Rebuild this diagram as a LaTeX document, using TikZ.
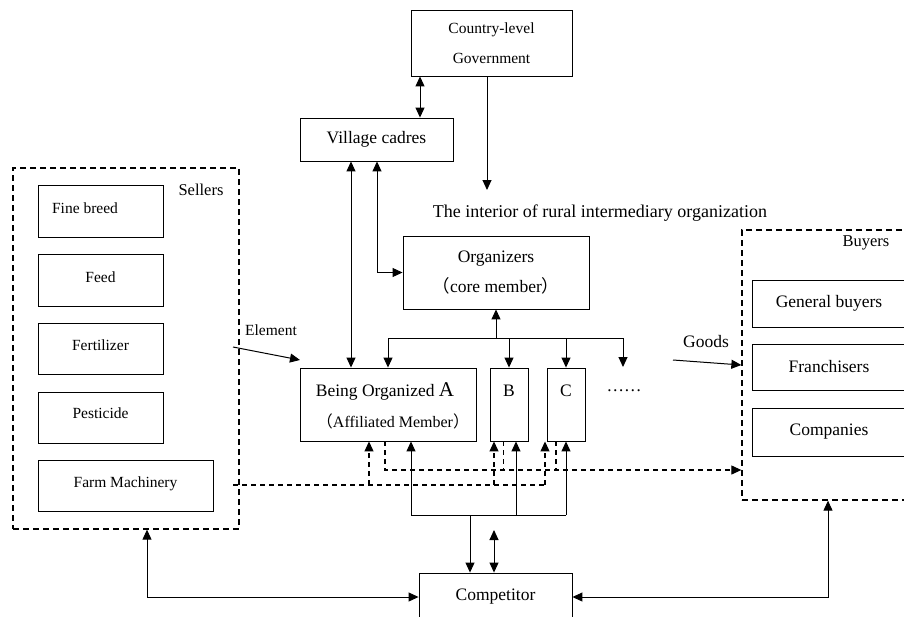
\documentclass[tikz,border=0pt]{standalone}
\usepackage{fontspec}
\setmainfont{Liberation Serif}
\newfontfamily\cjk{Noto Sans CJK SC}
\usetikzlibrary{arrows.meta}
\begin{document}
\begin{tikzpicture}[x=1pt,y=-1pt,
  box/.style={draw, line width=0.9pt, inner sep=0pt, align=center},
  dbox/.style={draw, line width=1.3pt, dash pattern=on 6pt off 4pt},
  tip/.style={-{Triangle[length=10pt,width=9pt]}},
  arr/.style={line width=1pt, tip},
  darr/.style={line width=1pt, {Triangle[length=10pt,width=9pt]}-{Triangle[length=10pt,width=9pt]}},
  dl/.style={line width=1.1pt, dash pattern=on 5pt off 4pt},
  sm/.style={font=\fontsize{15.5}{18}\selectfont},
  md/.style={font=\fontsize{17.5}{20}\selectfont},
  lbl/.style={font=\fontsize{16.5}{19}\selectfont, inner sep=0pt}]
\useasboundingbox (0,0) rectangle (904,616);
\fill[white] (0,0) rectangle (904,616);

% Government and village
\node[box, sm, minimum width=161pt, minimum height=66pt,
  font=\fontsize{15.5}{30}\selectfont] (gov) at (491.5,43) {Country-level\\Government};
\node[box, md, minimum width=153pt, minimum height=43pt] (village) at (376.5,139.5) {Village cadres};
\node[lbl, font=\fontsize{18}{20}\selectfont] (title) at (600,213) {The interior of rural intermediary organization};

% Organizers
\node[box, md, minimum width=186pt, minimum height=73pt,
  font=\fontsize{17.5}{30}\selectfont] (org) at (496,272.5)
  {Organizers\\{\fontsize{17.5}{18}\selectfont{\cjk （}core member{\cjk ）}}};

% Organized members
\node[box, minimum width=176pt, minimum height=73pt] (A) at (388,404.5) {};
\node[md, inner sep=0pt] (Atext) at (385,391) {Being Organized {\fontsize{21}{22}\selectfont A}};
\node[inner sep=0pt, font=\fontsize{16}{18}\selectfont] (Asub) at (393,421) {{\cjk （}Affiliated Member{\cjk ）}};
\node[box, minimum width=38pt, minimum height=73pt] (B) at (509,404.5) {};
\node[md, inner sep=0pt] (Btext) at (509,391) {B};
\node[box, minimum width=38pt, minimum height=73pt] (C) at (566,404.5) {};
\node[md, inner sep=0pt] (Ctext) at (566,391) {C};
\node[md, inner sep=0pt] (dots) at (624,391) {……};

% Sellers
\node[dbox, minimum width=226pt, minimum height=361pt] (sellers) at (126,348.5) {};
\node[lbl] (sellerslbl) at (201,190) {Sellers};
\node[box, sm, minimum width=125pt, minimum height=52pt] (fine) at (100.5,211) {};
\node[sm, inner sep=0pt] (finetext) at (85,208) {Fine breed};
\node[box, sm, minimum width=125pt, minimum height=52pt, text depth=6pt] (feed) at (100.5,280) {Feed};
\node[box, sm, minimum width=125pt, minimum height=51pt, text depth=6pt] (fert) at (100.5,348.5) {Fertilizer};
\node[box, sm, minimum width=125pt, minimum height=51pt, text depth=8pt] (pest) at (100.5,417.5) {Pesticide};
\node[box, sm, minimum width=175pt, minimum height=51pt, text depth=6pt] (fm) at (125.5,485.5) {Farm Machinery};

% Buyers
\node[dbox, minimum width=180pt, minimum height=270pt] (buyers) at (832,365) {};
\node[lbl] (buyerslbl) at (866,243) {Buyers};
\node[box, md, minimum width=154pt, minimum height=47pt] (gen) at (829,303.5) {General buyers};
\node[box, md, minimum width=154pt, minimum height=46pt] (fran) at (829,367) {Franchisers};
\node[box, md, minimum width=154pt, minimum height=48pt] (comp2) at (829,432) {Companies};

% Competitor
\node[box, minimum width=153pt, minimum height=48pt] (comp) at (495.5,597) {};
\node[md, inner sep=0pt] (comptext) at (495.5,597) {Competitor};

% labels
\node[sm, inner sep=0pt, font=\fontsize{15.5}{18}\selectfont] (el) at (271,330) {Element};
\node[md, inner sep=0pt] (goods) at (706,342) {Goods};

% coordinates
\coordinate (x420) at (420,0);
\coordinate (x487) at (487,0);
\coordinate (govend) at (487,190);
\coordinate (x351) at (351,0);
\coordinate (x377) at (377,0);
\coordinate (busL) at (388,338);
\coordinate (busM) at (496,338);
\coordinate (busB) at (509,338);
\coordinate (busC) at (566,338);
\coordinate (busR) at (623,338);
\coordinate (dotsTop) at (623,367);
\coordinate (elS) at (233,347);
\coordinate (elE) at (300,360);
\coordinate (goS) at (673,360);
\coordinate (dS) at (233,485);
\coordinate (dE) at (545,485);
\coordinate (dA) at (369,485);
\coordinate (dB) at (494,485);
\coordinate (y470) at (0,470);
\coordinate (dBd) at (503.5,470);
\coordinate (dCd) at (556,470);
\coordinate (x385) at (385,0);
\coordinate (x503) at (503.5,0);
\coordinate (x556) at (556,0);
\coordinate (sA) at (411,515);
\coordinate (sB) at (516,515);
\coordinate (sC) at (566,515);
\coordinate (sD) at (470,515);
\coordinate (sE) at (494,530);
\coordinate (x147) at (147,0);
\coordinate (x828) at (828,0);

% connectors
\draw[darr] (gov.south -| x420) -- (village.north -| x420);
\draw[arr] (gov.south -| x487) -- (govend);
\draw[darr] (village.south -| x351) -- (A.north -| x351);
\draw[darr] (village.south -| x377) |- (org.west);
\draw[arr] (busM) -- (org.south -| busM);
\draw[line width=1pt] (busL) -- (busR);
\draw[arr] (busL) -- (A.north -| busL);
\draw[arr] (busB) -- (B.north -| busB);
\draw[arr] (busC) -- (C.north -| busC);
\draw[arr] (busR) -- (dotsTop);
\draw[arr] (elS) -- (elE);
\draw[arr] (goS) -- (buyers.west);

% dashed flows
\draw[dl] (dS) -- (dE);
\draw[dl, tip] (dA) -- (A.south -| dA);
\draw[dl, tip] (dB) -- (B.south -| dB);
\draw[dl, tip] (dE) -- (C.south -| dE);
\draw[dl, tip] (A.south -| x385) |- (buyers.west |- y470);
\draw[dl] (B.south -| x503) -- (dBd);
\draw[dl] (C.south -| x556) -- (dCd);

% solid flows to competitor
\draw[line width=1pt] (sA) -- (sC);
\draw[arr] (sA) -- (A.south -| sA);
\draw[arr] (sB) -- (B.south -| sB);
\draw[arr] (sC) -- (C.south -| sC);
\draw[arr] (sD) -- (comp.north -| sD);
\draw[darr] (sE) -- (comp.north -| sE);
\draw[darr] (sellers.south -| x147) |- (comp.west);
\draw[darr] (buyers.south -| x828) |- (comp.east);
\end{tikzpicture}
\end{document}
